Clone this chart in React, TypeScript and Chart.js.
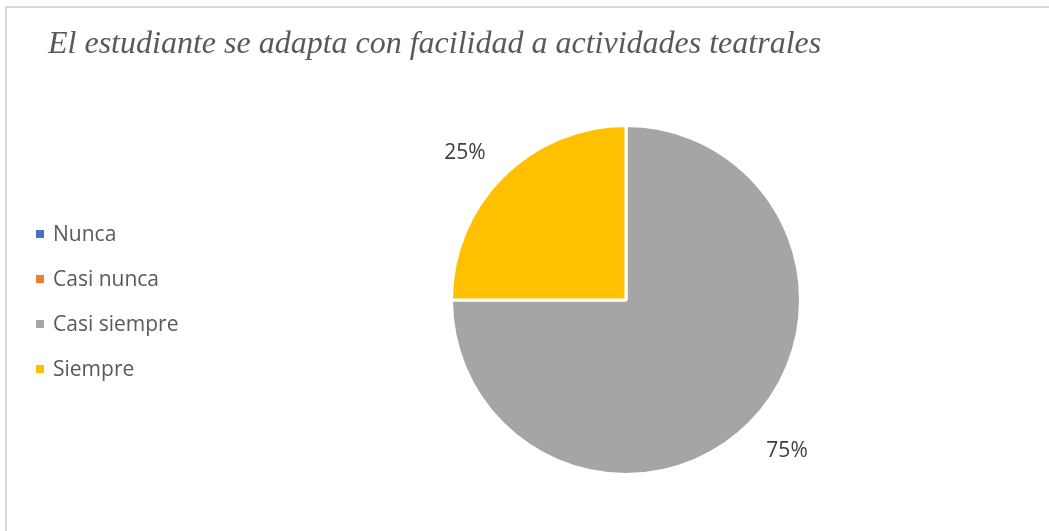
import React, { useEffect, useRef } from "react";
import { Chart, registerables } from "chart.js";

Chart.register(...registerables);

const TITLE = "El estudiante se adapta con facilidad a actividades teatrales";
const categories = ["Nunca", "Casi nunca", "Casi siempre", "Siempre"];
const values = [0, 0, 75, 25];
const colors = ["#4472C4", "#ED7D31", "#A5A5A5", "#FFC000"];

const W = 1049;
const H = 531;

const decorPlugin = {
  id: "decor",
  afterDraw(chart: any) {
    const ctx = chart.ctx as CanvasRenderingContext2D;
    ctx.save();
    // frame (top + left)
    ctx.strokeStyle = "#d9d9d9";
    ctx.lineWidth = 2;
    ctx.beginPath();
    ctx.moveTo(6, H + 2);
    ctx.lineTo(6, 7);
    ctx.lineTo(W + 2, 7);
    ctx.stroke();

    // title
    ctx.fillStyle = "#595959";
    ctx.font = "italic 32px 'Liberation Serif', 'Times New Roman', serif";
    ctx.textAlign = "left";
    ctx.textBaseline = "alphabetic";
    ctx.fillText(TITLE, 48, 53);

    // legend
    const labels = chart.data.labels as string[];
    const ds = chart.data.datasets[0];
    ctx.font = "21px 'Open Sans', sans-serif";
    ctx.textBaseline = "middle";
    labels.forEach((lab, i) => {
      const cy = 234 + i * 45;
      ctx.fillStyle = ds.backgroundColor[i];
      ctx.fillRect(36, cy - 4, 8, 8);
      ctx.fillStyle = "#595959";
      ctx.fillText(lab, 53, cy + 1);
    });

    // data labels (outside end, box touching the circle)
    const meta = chart.getDatasetMeta(0);
    const data = ds.data as number[];
    const total = data.reduce((a, b) => a + b, 0);
    ctx.font = "21px 'Open Sans', sans-serif";
    ctx.fillStyle = "#404040";
    ctx.textAlign = "center";
    meta.data.forEach((arc: any, i: number) => {
      const v = data[i];
      if (!v) return;
      const p = arc.getProps(["x", "y", "startAngle", "endAngle", "outerRadius"], true);
      const mid = (p.startAngle + p.endAngle) / 2;
      const r = p.outerRadius + 24;
      const text = Math.round((v / total) * 100) + "%";
      const w = ctx.measureText(text).width;
      const c = Math.cos(mid);
      const s = Math.sin(mid);
      const tx = p.x + c * r + Math.sign(c) * w / 2;
      const ty = p.y + s * r + Math.sign(s) * 8.5 + 2;
      ctx.fillText(text, tx, ty);
    });
    ctx.restore();
  },
};

export default function App() {
  const ref = useRef<HTMLCanvasElement | null>(null);
  useEffect(() => {
    if (!ref.current) return;
    const chart = new Chart(ref.current, {
      type: "pie",
      data: {
        labels: categories,
        datasets: [
          {
            data: values,
            backgroundColor: colors,
            borderColor: "#ffffff",
            borderWidth: 3,
          },
        ],
      },
      options: {
        responsive: false,
        animation: false,
        events: [],
        layout: { padding: { left: 450, right: 247, top: 124, bottom: 55 } },
        plugins: {
          legend: { display: false },
          title: { display: false },
          tooltip: { enabled: false },
        },
      },
      plugins: [decorPlugin],
    });
    return () => chart.destroy();
  }, []);
  return (
    <div style={{ position: "fixed", left: 0, top: 0, width: W, height: H, background: "#fff" }}>
      <canvas ref={ref} width={W} height={H} style={{ width: W, height: H, display: "block" }} />
    </div>
  );
}
